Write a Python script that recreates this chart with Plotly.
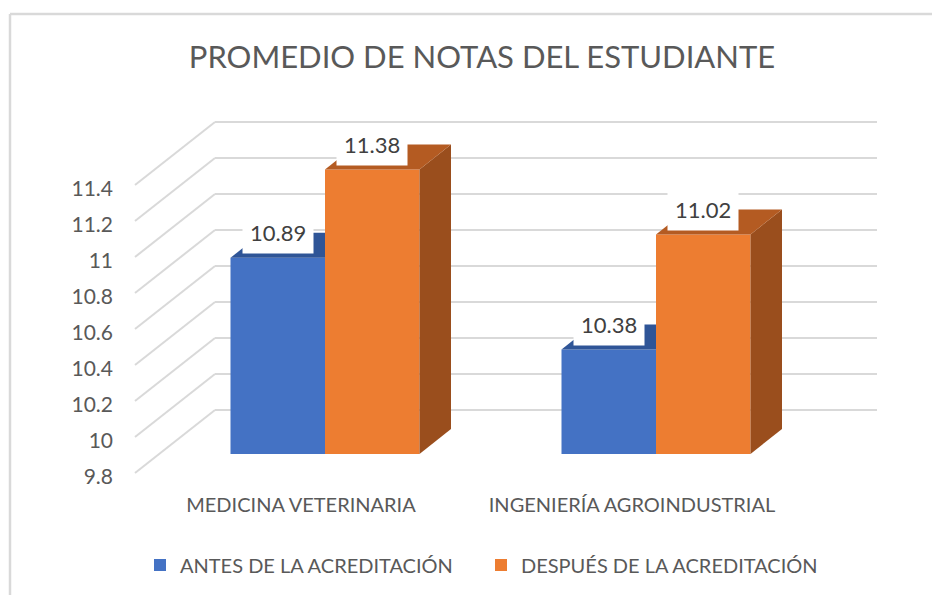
import plotly.graph_objects as go

# ---------------- data ----------------
title_text = "PROMEDIO DE NOTAS DEL ESTUDIANTE"
categories = ["MEDICINA VETERINARIA", "INGENIERÍA AGROINDUSTRIAL"]
series_names = ["ANTES DE LA ACREDITACIÓN", "DESPUÉS DE LA ACREDITACIÓN"]
antes = [10.89, 10.38]
despues = [11.38, 11.02]
y_ticks = [9.8, 10.0, 10.2, 10.4, 10.6, 10.8, 11.0, 11.2, 11.4]
y_tick_labels = ["9.8", "10", "10.2", "10.4", "10.6", "10.8", "11", "11.2", "11.4"]

# ---------------- styling / geometry ----------------
FONT = "Lato"
TEXT_COL = "#595959"
LABEL_COL = "#404040"
GRID_COL = "#D9D9D9"
front_cols = ["#4472C4", "#ED7D31"]
top_cols = ["#2F5597", "#B45B22"]
side_cols = ["#2A4D8A", "#9A4E1D"]

FIG_W, FIG_H = 940, 595
OFF = 8  # page body margin of the browser

L, R, T, B = 118 - OFF, 900 - OFF, 100 - OFF, 480 - OFF   # plot area in pixels
PX_X, X0_PX = 331.0, 325.0 - OFF          # pixels per category, pixel of category 0
PX_Y, BASE, BASE_PX = 180.0, 9.8, 454.0 - OFF

x_range = [(L - X0_PX) / PX_X, (R - X0_PX) / PX_X]
y_range = [BASE - (B - BASE_PX) / PX_Y, BASE + (BASE_PX - T) / PX_Y]

BAR_W = 94.5 / PX_X
DDX, DDY = 31.5 / PX_X, 25.0 / PX_Y              # bar depth
BACK_DX, BACK_DY = 55.5 / PX_X, 44.0 / PX_Y      # back wall offset
FRONT_DX, FRONT_DY = -24.5 / PX_X, -19.0 / PX_Y  # front edge offset
X_LO, X_HI = -0.5, 1.5

def px2paper_x(px):
    return (px - OFF - L) / (R - L)

def px2paper_y(py):
    return (B - (py - OFF)) / (B - T)

xs = list(range(len(categories)))
series = [antes, despues]
offsets = [-BAR_W, 0.0]

fig = go.Figure()
for name, vals, off, col in zip(series_names, series, offsets, front_cols):
    fig.add_trace(go.Bar(
        x=xs, y=[v - BASE for v in vals], base=BASE,
        offset=off, width=BAR_W, name=name,
        marker=dict(color=col, line=dict(width=0)),
        hovertext=[f"{v:.2f}" for v in vals], hoverinfo="text+name",
    ))

shapes = []
# back wall gridlines and left wall diagonals
for t in y_ticks:
    shapes.append(dict(type="line", xref="x", yref="y", layer="below",
                       x0=X_LO + BACK_DX, x1=X_HI + BACK_DX,
                       y0=t + BACK_DY, y1=t + BACK_DY,
                       line=dict(color=GRID_COL, width=2)))
    shapes.append(dict(type="line", xref="x", yref="y", layer="below",
                       x0=X_LO + FRONT_DX, x1=X_LO + BACK_DX,
                       y0=t + FRONT_DY, y1=t + BACK_DY,
                       line=dict(color=GRID_COL, width=2)))

def poly(pts):
    return "M " + " L ".join(f"{x},{y}" for x, y in pts) + " Z"

# 3D faces of bars
for si, (vals, off) in enumerate(zip(series, offsets)):
    for i, v in enumerate(vals):
        xl = xs[i] + off
        xr = xl + BAR_W
        if si == 0:
            top = [(xl, v), (xr, v), (xr, v + DDY), (xl + DDX, v + DDY)]
        else:
            top = [(xl, v), (xr, v), (xr + DDX, v + DDY), (xl + DDX, v + DDY)]
            side = [(xr, BASE), (xr, v), (xr + DDX, v + DDY), (xr + DDX, BASE + DDY)]
            shapes.append(dict(type="path", xref="x", yref="y", layer="above",
                               path=poly(side), fillcolor=side_cols[si],
                               line=dict(width=0)))
        shapes.append(dict(type="path", xref="x", yref="y", layer="above",
                           path=poly(top), fillcolor=top_cols[si],
                           line=dict(width=0)))

# chart outer border
shapes.append(dict(type="line", xref="paper", yref="paper",
                   x0=px2paper_x(10), x1=px2paper_x(960),
                   y0=px2paper_y(14), y1=px2paper_y(14),
                   line=dict(color=GRID_COL, width=2.5)))
shapes.append(dict(type="line", xref="paper", yref="paper",
                   x0=px2paper_x(10), x1=px2paper_x(10),
                   y0=px2paper_y(14), y1=px2paper_y(620),
                   line=dict(color=GRID_COL, width=2.5)))

annotations = []
for vals, off in zip(series, offsets):
    for i, v in enumerate(vals):
        annotations.append(dict(
            x=xs[i] + off + BAR_W / 2, y=v + DDY, xref="x", yref="y",
            text=f"{v:.2f}", showarrow=False, yanchor="middle",
            font=dict(family=FONT, size=22, color=LABEL_COL),
            bgcolor="white", borderpad=7,
        ))

fig.update_layout(
    width=FIG_W, height=FIG_H,
    margin=dict(l=L, r=FIG_W - R, t=T, b=FIG_H - B, autoexpand=False),
    paper_bgcolor="white", plot_bgcolor="white",
    barmode="overlay",
    title=dict(text=title_text, xref="container", x=(482 - OFF) / FIG_W, xanchor="center",
               yref="container", y=1 - (57.5 - OFF) / FIG_H, yanchor="middle",
               font=dict(family=FONT, size=31, color=TEXT_COL)),
    xaxis=dict(range=x_range, tickmode="array", tickvals=xs, ticktext=categories,
               showgrid=False, zeroline=False, showline=False, ticks="",
               ticklabelshift=-24, ticklabelstandoff=11,
               tickfont=dict(family=FONT, size=20, color=TEXT_COL), fixedrange=True),
    yaxis=dict(range=y_range, tickmode="array", tickvals=y_ticks, ticktext=y_tick_labels,
               showgrid=False, zeroline=False, showline=False, ticks="",
               ticklabelshift=23, ticklabelstandoff=4,
               tickfont=dict(family=FONT, size=21, color=TEXT_COL), fixedrange=True),
    legend=dict(orientation="h", xref="container", x=(140 - OFF) / FIG_W, xanchor="left",
                yref="container", y=1 - (565 - OFF) / FIG_H, yanchor="middle",
                font=dict(family=FONT, size=20, color=TEXT_COL),
                itemwidth=30, entrywidth=296, traceorder="normal"),
    shapes=shapes, annotations=annotations,
    showlegend=True,
)

fig.write_html("out.html")
